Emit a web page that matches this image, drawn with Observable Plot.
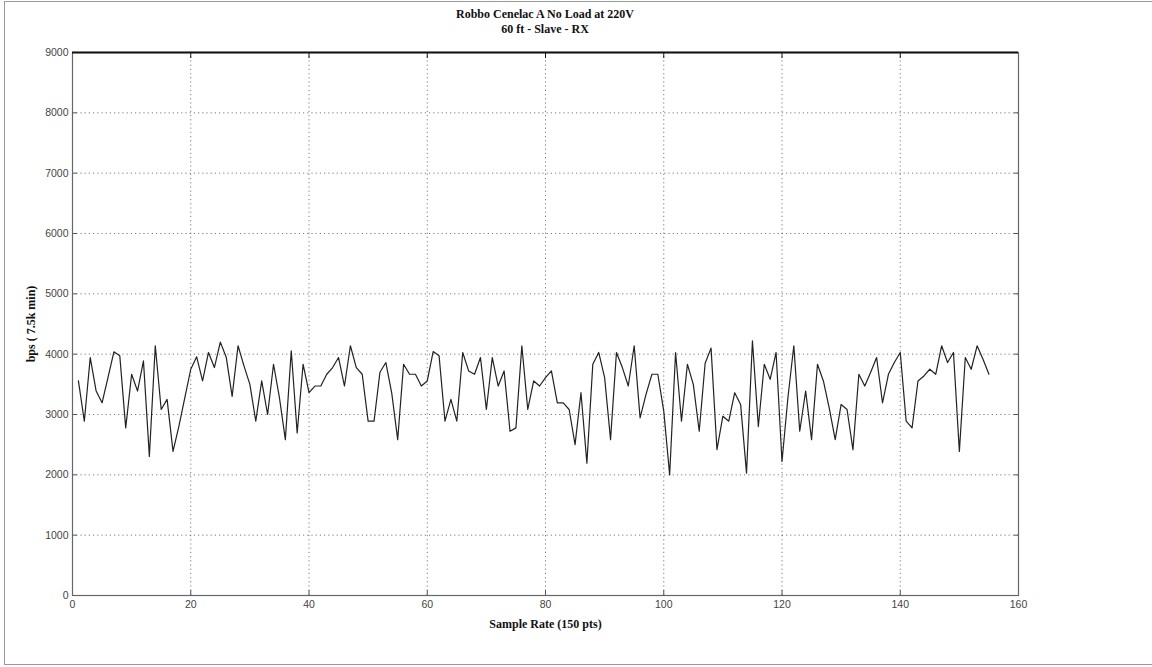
<!DOCTYPE html>
<html>
<head>
<meta charset="utf-8">
<script src="https://cdn.jsdelivr.net/npm/d3@7"></script>
<script src="https://cdn.jsdelivr.net/npm/@observablehq/plot@0.6"></script>
<style>
  html, body { margin: 0; padding: 0; background: #fff; }
  #wrap { position: relative; width: 1152px; height: 667px; overflow: hidden; }
  #border { position: absolute; left: 4px; top: 1px; width: 1160px; height: 664px; border: 1px solid #9a9a9a; box-sizing: border-box; }
  #title { position: absolute; left: 72px; width: 946px; top: 7px; text-align: center;
           font-family: "Liberation Serif", "DejaVu Serif", serif; font-weight: bold; font-size: 12px; line-height: 15px; color: #111; }
  svg { position: absolute; left: 0; top: 0; }
  svg [aria-label$="axis label"] text { font-family: "Liberation Serif", serif; font-weight: bold; font-size: 12px; fill: #111; }
</style>
</head>
<body>
<div id="wrap">
  <div id="border"></div>
  <div id="title">Robbo Cenelac A No Load at 220V<br>60 ft - Slave - RX</div>
</div>
<script>
const titleLines = ["Robbo Cenelac A No Load at 220V", "60 ft - Slave - RX"];
const xLabel = "Sample Rate (150 pts)";
const yLabel = "bps ( 7.5k min)";
const xTicks = [0, 20, 40, 60, 80, 100, 120, 140, 160];
const yTicks = [0, 1000, 2000, 3000, 4000, 5000, 6000, 7000, 8000, 9000];
const bps = [
  3556, 2889, 3944, 3389, 3194, 3611, 4039, 3972, 2778, 3667,
  3389, 3889, 2306, 4139, 3083, 3250, 2389, 2806, 3278, 3750,
  3956, 3556, 4028, 3778, 4200, 3950, 3300, 4139, 3806, 3500,
  2889, 3556, 3000, 3833, 3278, 2583, 4056, 2694, 3833, 3361,
  3472, 3472, 3667, 3778, 3944, 3472, 4139, 3778, 3667, 2889,
  2889, 3700, 3861, 3350, 2583, 3833, 3667, 3667, 3472, 3556,
  4044, 3972, 2889, 3250, 2889, 4028, 3722, 3667, 3944, 3083,
  3944, 3472, 3722, 2722, 2778, 4139, 3083, 3556, 3472, 3611,
  3722, 3194, 3194, 3083, 2500, 3361, 2194, 3833, 4028, 3611,
  2583, 4028, 3778, 3472, 4139, 2944, 3333, 3667, 3667, 3056,
  2000, 4028, 2889, 3833, 3500, 2722, 3850, 4100, 2417, 2972,
  2889, 3361, 3167, 2028, 4222, 2800, 3833, 3583, 4028, 2222,
  3278, 4139, 2722, 3389, 2583, 3833, 3556, 3100, 2583, 3167,
  3083, 2417, 3667, 3472, 3700, 3944, 3194, 3667, 3861, 4028,
  2889, 2778, 3556, 3639, 3750, 3667, 4139, 3861, 4028, 2389,
  3944, 3750, 4139, 3917, 3667
];
const samples = bps.map((v, i) => ({x: i + 1, y: v}));

const tickFont = {fontFamily: "'Liberation Sans', Arial, sans-serif", fontSize: 10.5};

const chart = Plot.plot({
  width: 1152,
  height: 667,
  marginLeft: 72,
  marginRight: 134,
  marginTop: 52,
  marginBottom: 72,
  style: {background: "transparent", color: "#444", ...tickFont},
  x: {domain: [0, 160]},
  y: {domain: [0, 9000]},
  marks: [
    Plot.gridX(xTicks.slice(1, -1), {stroke: "#444", strokeOpacity: 0.7, strokeDasharray: "1.2,3"}),
    Plot.gridY(yTicks.slice(1, -1), {stroke: "#444", strokeOpacity: 0.7, strokeDasharray: "1.2,3"}),
    Plot.axisX(xTicks, {anchor: "bottom", tickSize: -5, tickPadding: 10, stroke: "#555", tickFormat: d => String(d), label: xLabel, labelAnchor: "center", labelOffset: 32, labelArrow: false}),
    Plot.axisX(xTicks, {anchor: "top", tickSize: -5, tickFormat: () => "", stroke: "#111", label: null}),
    Plot.axisY(yTicks, {anchor: "left", tickSize: -5, tickPadding: 9, stroke: "#555", tickFormat: d => String(d), label: yLabel, labelAnchor: "center", labelOffset: 46, labelArrow: false}),
    Plot.axisY(yTicks, {anchor: "right", tickSize: -5, tickFormat: () => "", stroke: "#555", label: null}),
    Plot.frame({stroke: "#666", strokeWidth: 1.2}),
    Plot.ruleY([9000], {stroke: "#111", strokeWidth: 2.2}),
    Plot.line(samples, {x: "x", y: "y", stroke: "#222", strokeWidth: 1.2})
  ]
});
document.getElementById("wrap").appendChild(chart);
</script>
</body>
</html>
